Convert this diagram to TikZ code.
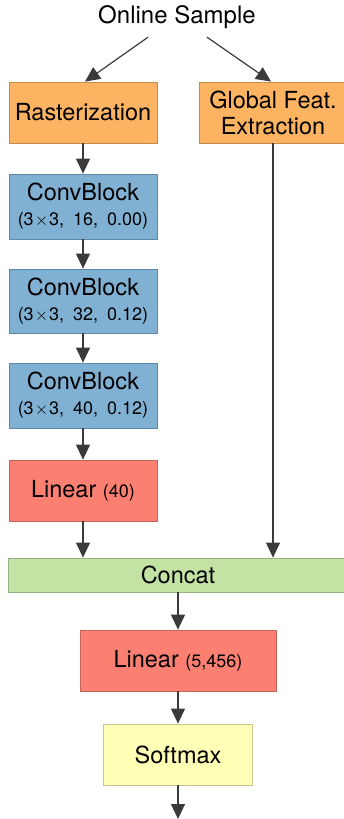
\documentclass[tikz,border=0pt]{standalone}
\usepackage{fontspec}
\setmainfont{TeX Gyre Heros}
\usetikzlibrary{arrows.meta}
\definecolor{orangeF}{HTML}{FDB462}
\definecolor{orangeD}{HTML}{C48A4C}
\definecolor{blueF}{HTML}{80B1D3}
\definecolor{blueD}{HTML}{5D88A8}
\definecolor{redF}{HTML}{FB8072}
\definecolor{redD}{HTML}{C4645A}
\definecolor{greenF}{HTML}{C2E3A3}
\definecolor{greenD}{HTML}{95B37E}
\definecolor{yellowF}{HTML}{FFFFB5}
\definecolor{yellowD}{HTML}{C6C68E}
\definecolor{arrowgray}{HTML}{3A3A3A}
\newcommand{\bigf}{\fontsize{23.5}{26}\selectfont}
\newcommand{\smallf}{\fontsize{18}{26}\selectfont}
\newcommand{\tms}{\kern1pt$\times$\kern1pt}
\begin{document}
\begin{tikzpicture}[x=1pt,y=-1pt,
  box/.style={draw, line width=0.8pt, inner sep=0pt, align=center, font=\bigf, text=black},
  convbox/.style={box, fill=blueF, draw=blueD, minimum width=148pt},
  arr/.style={draw=arrowgray, line width=1.2pt, -{Triangle[length=15pt,width=14pt]}}]
\useasboundingbox (0,0) rectangle (344,819);
\clip (0,0) rectangle (344,819);

\node[font=\fontsize{24}{26}\selectfont, minimum height=40pt, inner sep=0pt] (sample) at (177,17) {Online Sample};

\node[box, fill=orangeF, draw=orangeD, minimum width=148pt, minimum height=61pt] (rast) at (83,112.5) {Rasterization};
\node[box, fill=orangeF, draw=orangeD, minimum width=148pt, minimum height=61pt] (glob) at (273,112.5) {Global Feat.\\Extraction};

\node[convbox, minimum height=65pt] (conv1) at (83,206.5) {ConvBlock\\[-1pt]{\smallf (3\tms3,\enspace 16,\enspace 0.00)}};
\node[convbox, minimum height=64pt] (conv2) at (83,301) {ConvBlock\\[-1pt]{\smallf (3\tms3,\enspace 32,\enspace 0.12)}};
\node[convbox, minimum height=65pt] (conv3) at (83,395.5) {ConvBlock\\[-1pt]{\smallf (3\tms3,\enspace 40,\enspace 0.12)}};

\node[box, fill=redF, draw=redD, minimum width=148pt, minimum height=61pt] (lin1) at (83,490.5) {Linear {\smallf (40)}};

\node[box, fill=greenF, draw=greenD, minimum width=340pt, minimum height=34pt] (concat) at (178,575) {Concat};

\node[box, fill=redF, draw=redD, minimum width=196pt, minimum height=61pt] (lin2) at (178,660.5) {Linear {\smallf (5,456)}};

\node[box, fill=yellowF, draw=yellowD, minimum width=149pt, minimum height=61pt] (soft) at (178,754.5) {Softmax};

\coordinate (out) at (178,819);

\draw[arr] ([xshift=-29pt]sample.south) -- ([xshift=2pt]rast.north);
\draw[arr] ([xshift=30pt]sample.south) -- ([xshift=-2pt]glob.north);
\draw[arr] (rast) -- (conv1);
\draw[arr] (conv1) -- (conv2);
\draw[arr] (conv2) -- (conv3);
\draw[arr] (conv3) -- (lin1);
\draw[arr] (lin1.south) -- (lin1.south |- concat.north);
\draw[arr] (glob.south) -- (glob.south |- concat.north);
\draw[arr] (concat.south) -- (lin2.north);
\draw[arr] (lin2) -- (soft);
\draw[arr] (soft.south) -- (out);
\end{tikzpicture}
\end{document}
